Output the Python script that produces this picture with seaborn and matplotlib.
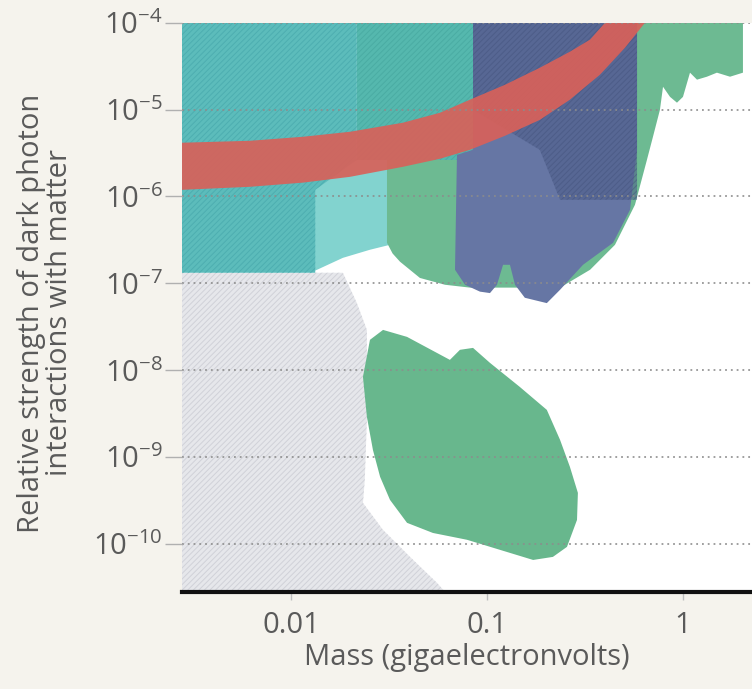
import matplotlib
matplotlib.use("Agg")
import matplotlib.pyplot as plt
import seaborn as sns

# region outlines, mass in GeV and relative coupling strength
teal_x = [0.00278, 0.0217, 0.0217, 0.0133, 0.0133, 0.00278]
teal_y = [1e-4, 1e-4, 2.64e-6, 1.19e-6, 1.32e-7, 1.32e-7]

tealgreen_x = [0.0217, 0.0849, 0.0849, 0.0217]
tealgreen_y = [1e-4, 1e-4, 2.64e-6, 2.64e-6]

cyan_x = [0.0125, 0.0217, 0.0320, 0.0320, 0.0253, 0.0184, 0.0136, 0.0125]
cyan_y = [1.19e-6, 3.44e-6, 3.44e-6, 2.77e-7, 2.43e-7, 1.96e-7, 1.43e-7, 1.32e-7]

green_x = [0.0309, 0.0309, 0.0330, 0.0360, 0.0455, 0.0611, 0.0819, 0.236, 0.336, 0.450,
           0.569, 0.655, 0.703, 0.763, 0.791, 0.859, 0.932, 1.0, 1.086, 1.179,
           1.325, 1.490, 1.738, 2.023, 2.023, 0.0849, 0.0849]
green_y = [3.44e-6, 2.92e-7, 2.20e-7, 1.77e-7, 1.15e-7, 9.6e-8, 8.9e-8, 8.9e-8, 1.43e-7, 2.77e-7,
           8.0e-7, 2.64e-6, 4.86e-6, 9.95e-6, 1.83e-5, 1.40e-5, 1.20e-5, 1.40e-5, 2.66e-5, 2.21e-5,
           2.39e-5, 2.66e-5, 2.39e-5, 2.66e-5, 1e-4, 1e-4, 3.44e-6]

purple_x = [0.0849, 0.0849, 0.0703, 0.0687, 0.0773, 0.0921, 0.1036, 0.1125, 0.1208, 0.131,
            0.139, 0.156, 0.202, 0.236, 0.309, 0.440, 0.537, 0.583, 0.583]
purple_y = [1e-4, 3.44e-6, 3.01e-6, 1.43e-7, 9.6e-8, 8.0e-8, 7.7e-8, 9.6e-8, 1.63e-7, 1.63e-7,
            9.6e-8, 6.8e-8, 5.9e-8, 8.4e-8, 1.63e-7, 2.92e-7, 7.01e-7, 3.44e-6, 1e-4]

purple_dark_x = [0.0849, 0.583, 0.583, 0.236, 0.186, 0.0849]
purple_dark_y = [1e-4, 1e-4, 9.14e-7, 9.14e-7, 3.44e-6, 9.95e-6]

red_upper_x = [0.00278, 0.00618, 0.0115, 0.0200, 0.0372, 0.0575, 0.0819, 0.1236, 0.186, 0.265, 0.336, 0.400]
red_upper_y = [4.15e-6, 4.37e-6, 4.86e-6, 5.55e-6, 7.05e-6, 9.18e-6, 1.30e-5, 1.93e-5, 3.03e-5, 4.64e-5, 6.4e-5, 1e-4]
red_lower_x = [0.00278, 0.00618, 0.0115, 0.0200, 0.0372, 0.0575, 0.0819, 0.1236, 0.186, 0.265, 0.377, 0.506, 0.640]
red_lower_y = [1.19e-6, 1.29e-6, 1.44e-6, 1.68e-6, 2.19e-6, 2.71e-6, 3.44e-6, 4.99e-6, 7.6e-6, 1.30e-5, 2.52e-5, 5.15e-5, 1e-4]

blob_x = [0.0253, 0.0295, 0.0391, 0.0647, 0.0728, 0.0849, 0.1036, 0.147, 0.202, 0.236,
          0.265, 0.291, 0.288, 0.256, 0.217, 0.172, 0.1165, 0.0791, 0.0530, 0.0391,
          0.0320, 0.0285, 0.0262, 0.0244, 0.0233]
blob_y = [2.23e-8, 2.90e-8, 2.41e-8, 1.31e-8, 1.71e-8, 1.80e-8, 1.21e-8, 6.40e-9, 3.48e-9, 1.57e-9,
          7.67e-10, 3.85e-10, 1.88e-10, 9.2e-11, 7.05e-11, 6.5e-11, 8.5e-11, 1.11e-10, 1.33e-10, 1.74e-10,
          3.20e-10, 5.89e-10, 1.20e-9, 2.89e-9, 8.35e-9]

gray_x = [0.00278, 0.0184, 0.0217, 0.0244, 0.0244, 0.0238, 0.0233, 0.0295, 0.0405, 0.0556, 0.0611, 0.00278]
gray_y = [1.32e-7, 1.32e-7, 5.9e-8, 2.9e-8, 2.67e-9, 5.43e-10, 2.95e-10, 1.44e-10, 7.05e-11, 3.54e-11, 2.79e-11, 2.79e-11]

y_ticks = [1e-10, 1e-9, 1e-8, 1e-7, 1e-6, 1e-5, 1e-4]
x_ticks = [0.01, 0.1, 1]
x_ticklabels = ["0.01", "0.1", "1"]

sns.set_theme(style="white")
plt.rcParams['font.family'] = ['Open Sans', 'DejaVu Sans']
plt.rcParams['mathtext.fontset'] = 'custom'
plt.rcParams['mathtext.rm'] = 'Open Sans'
plt.rcParams['hatch.linewidth'] = 0.7

fig = plt.figure(figsize=(7.52, 6.89), dpi=100, facecolor='#f5f3ed')
ax = fig.add_axes([0.242, 0.141, 0.758, 0.826])
ax.set_facecolor('white')
ax.set_xscale('log')
ax.set_yscale('log')


def region(x, y, color, hatch=None, hatch_color='none', alpha=1.0, z=1):
    ax.fill(x, y, facecolor=color, edgecolor=hatch_color, hatch=hatch, lw=0, alpha=alpha, zorder=z)


region(gray_x, gray_y, '#e6e7eb', hatch='//////', hatch_color='#d0d1d8')
region(cyan_x, cyan_y, '#82d3cf')
region(green_x, green_y, '#6dba92')
region(tealgreen_x, tealgreen_y, '#55b8ae', hatch='//////', hatch_color='#4aaca3')
region(teal_x, teal_y, '#5cbcbb', hatch='//////', hatch_color='#4daeb0')
region(purple_x, purple_y, '#6676a4')
region(purple_dark_x, purple_dark_y, '#4c5c88', hatch='//////', hatch_color='#45547e', alpha=0.55)
region(red_upper_x + red_lower_x[::-1], red_upper_y + red_lower_y[::-1], '#d8615a', alpha=0.92, z=1.5)
region(blob_x, blob_y, '#68b78d', z=1.6)

ax.set_xlim(0.00278, 2.25)
ax.set_ylim(2.79e-11, 1e-4)

ax.set_yticks(y_ticks)
ax.minorticks_off()
ax.set_xticks(x_ticks, labels=x_ticklabels)

ax.set_axisbelow(False)
ax.yaxis.grid(True, linestyle=(0, (1, 2.2)), color='#8c8c8c', lw=1.3, alpha=0.9)
ax.xaxis.grid(False)

sns.despine(ax=ax, left=True, top=True, right=True)
ax.spines['bottom'].set_color('#111111')
ax.spines['bottom'].set_linewidth(3)
ax.spines['bottom'].set_zorder(3)

ax.tick_params(axis='y', length=12, width=1, color='#b0b0b0', pad=2,
               labelsize=21, labelcolor='#5a5a5a', left=True)
ax.tick_params(axis='x', length=6, width=1, color='#c0c0c0', pad=8,
               labelsize=21, labelcolor='#5a5a5a', bottom=True)

ax.set_xlabel("Mass (gigaelectronvolts)", fontsize=21, color='#5a5a5a', labelpad=2)
ax.set_ylabel("Relative strength of dark photon\ninteractions with matter",
              fontsize=21, color='#5a5a5a', linespacing=0.95)
ax.yaxis.set_label_coords(-0.19, 0.49)

fig.savefig("out.png", dpi=100, facecolor=fig.get_facecolor())
